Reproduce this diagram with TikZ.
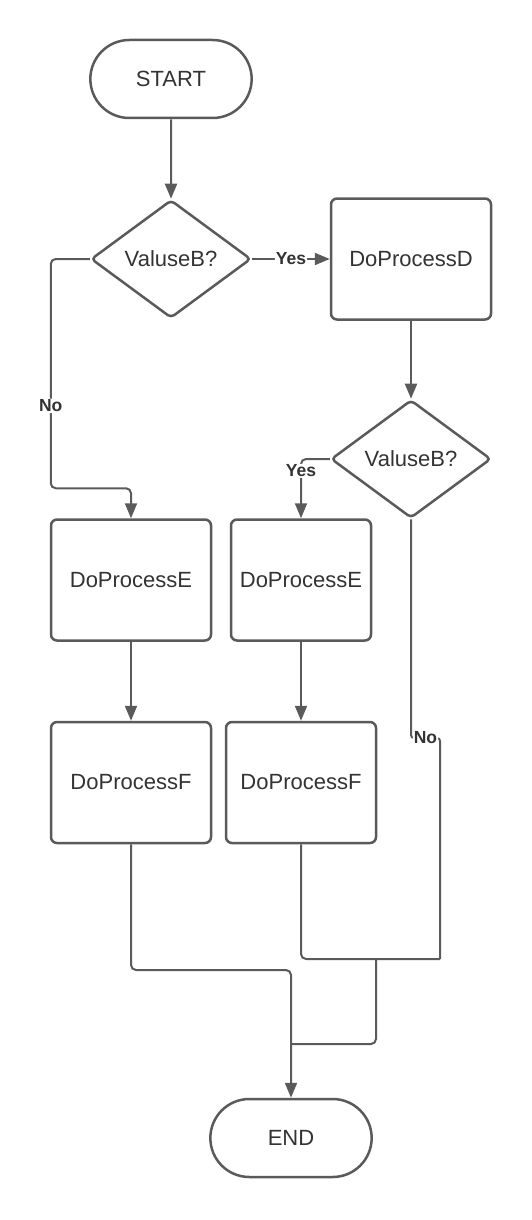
\documentclass[tikz,border=0pt]{standalone}
\usepackage{fontspec}
\setmainfont{Liberation Sans}
\usetikzlibrary{arrows.meta,positioning,shapes.geometric,shapes.misc}
\definecolor{edge}{HTML}{5A5A5A}
\definecolor{ink}{HTML}{333333}
\begin{document}
\begin{tikzpicture}[x=1pt, y=-1pt, node distance=78pt, every node/.style={font=\fontsize{22}{26}\selectfont, text=ink}, term/.style={draw=edge, line width=2.5pt, rounded rectangle, minimum width=168pt, minimum height=78pt}, process/.style={draw=edge, line width=2.5pt, rounded corners=6pt, minimum width=160pt, minimum height=121pt, align=center}, decision/.style={draw=edge, line width=2.5pt, diamond, aspect=1.36, inner sep=1pt, rounded corners=4pt, minimum width=160pt, minimum height=118pt}, lbl/.style={font=\fontsize{17.5}{20}\selectfont\bfseries, fill=white, inner sep=1pt}, line/.style={draw=edge, line width=2pt, rounded corners=5pt}, arrow/.style={line, -{Triangle[length=15pt, width=12pt]}}]
\useasboundingbox (0,0) rectangle (531,1220);
\node[term] (start) at (171,79) {START};
\node[decision, below=79.5pt of start] (dec1) {ValuseB?};
\node[process, right=77.5pt of dec1] (procD) {DoProcessD};
\node[decision, below=of procD] (dec2) {ValuseB?};
\node[process] (procE1) at (131,580) {DoProcessE};
\node[process, below=79pt of procE1] (procF1) {DoProcessF};
\node[process, minimum width=140pt] (procE2) at (301,580) {DoProcessE};
\node[process, minimum width=150pt, below=79pt of procE2] (procF2) {DoProcessF};
\node[term] (end) at (291,1138) {END};
\coordinate (joinNo) at (440,959);
\coordinate (joinR) at (376,959);
\coordinate (joinL) at (291,1044);
\coordinate (joinF1) at (291,970);
\draw[arrow] (start) -- (dec1);
\draw[arrow] (dec1) -- node[lbl] {Yes} (procD);
\draw[arrow] (procD) -- (dec2);
\draw[arrow] (dec1.west) -| node[lbl, pos=0.82] {No} ([xshift=1pt, yshift=30pt]procE1.north west) -| (procE1.north);
\draw[arrow] (procE1) -- (procF1);
\draw[arrow] (dec2.west) -| node[lbl, pos=0.6] {Yes} (procE2.north);
\draw[arrow] (procE2) -- (procF2);
\draw[line, rounded corners=3pt] (dec2.south) |- node[lbl, pos=0.75] {No} ([yshift=221pt]joinNo) -- (joinNo);
\draw[line] (procF2.south) |- (joinNo);
\draw[line] (joinR) |- (joinL);
\draw[arrow] (procF1.south) |- (joinF1) -- (end.north);
\end{tikzpicture}
\end{document}
